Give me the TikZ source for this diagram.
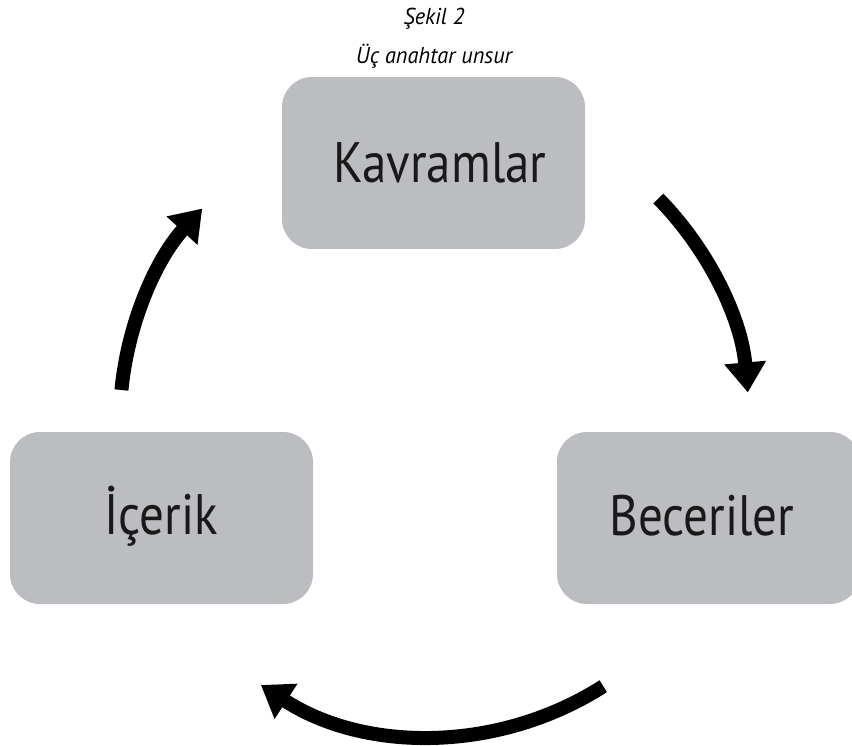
\documentclass[tikz,border=0pt]{standalone}
\usepackage{fontspec}
\setmainfont{PT Sans}
\usetikzlibrary{arrows.meta}
\definecolor{boxgray}{RGB}{188,189,192}
\begin{document}
\begin{tikzpicture}[x=1pt,y=-1pt,
  box/.style={fill=boxgray,rounded corners=30pt},
  lbl/.style={font=\fontsize{57}{60}\selectfont,text=black!90,inner sep=0pt,xscale=0.86},
  captxt/.style={font=\itshape\fontsize{23}{25}\selectfont,inner sep=0pt,xscale=0.97},
  cyc/.style={line width=14pt,-{Triangle[width=40pt,length=30pt]}}]
\useasboundingbox (0,0) rectangle (852,746);
\begin{scope}
\clip (0,0) rectangle (852,746);
\fill[box] (282,77) rectangle (585,249);
\fill[box] (10,432) rectangle (313,604);
\fill[box] (557,432) rectangle (860,604);
\end{scope}
\node[lbl] (kav) at (440,163) {Kavramlar};
\node[lbl] (ice) at (161,516) {İçerik};
\node[lbl] (bec) at (702,516) {Beceriler};
\node[captxt,anchor=base] (t1) at (434,25) {Şekil 2};
\node[captxt,anchor=base] (t2) at (434,64) {Üç anahtar unsur};
\coordinate (c) at (433,420);
\draw[cyc] ([shift={(44.5:316 and -316)}]c) arc[start angle=44.5,end angle=5,x radius=316,y radius=-316];
\draw[cyc] ([shift={(-57.4:316 and -316)}]c) arc[start angle=-57.4,end angle=-123,x radius=316,y radius=-316];
\draw[cyc] ([shift={(174.5:313 and -313)}]c) arc[start angle=174.5,end angle=137.5,x radius=313,y radius=-313];
\end{tikzpicture}
\end{document}
